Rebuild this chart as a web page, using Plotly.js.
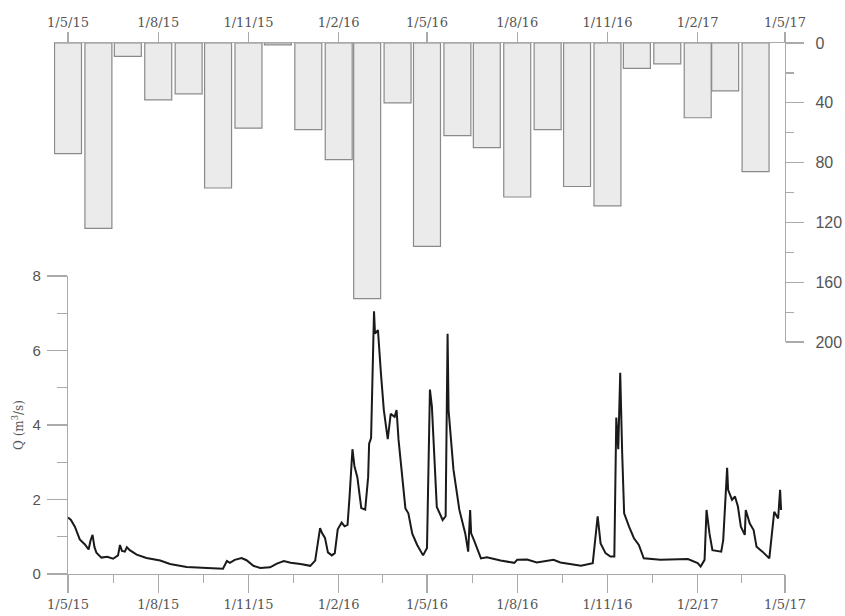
<!DOCTYPE html>
<html>
<head>
<meta charset="utf-8">
<script src="https://cdn.plot.ly/plotly-3.0.1.min.js"></script>
<style>html,body{margin:0;padding:0;background:#fff;}#chart{width:845px;height:616px;}</style>
</head>
<body>
<div id="chart"></div>
<script>
// Monthly precipitation (mm), bars centred on the first day of each month
const barMonths = ["2015-05-01","2015-06-01","2015-07-01","2015-08-01","2015-09-01","2015-10-01",
  "2015-11-01","2015-12-01","2016-01-01","2016-02-01","2016-03-01","2016-04-01",
  "2016-05-01","2016-06-01","2016-07-01","2016-08-01","2016-09-01","2016-10-01",
  "2016-11-01","2016-12-01","2017-01-01","2017-02-01","2017-03-01","2017-04-01"];
const barVals = [74, 124, 9, 38, 34, 97, 57, 1.3, 58, 78, 171, 40,
  136, 62, 70, 103, 58, 96, 109, 17, 14, 50, 32, 86];

// Discharge Q (m3/s): days since 1 May 2015 and values
const qDay = [0,3,7,12,17,21,23,25,27,29,34,40,46,51,53,55,58,60,63,70,80,94,104,121,142,158,162,165,170,177,182,189,196,206,213,220,227,237,247,252,257,259,262,265,269,272,275,279,282,285,287,290,292,295,299,303,306,307,309,312,313,316,319,322,326,329,333,335,337,341,344,347,351,356,362,366,369,371,376,382,385,387,388,393,399,405,408,410,411,414,421,427,441,455,458,468,478,495,502,523,535,540,543,548,553,557,559,561,563,565,567,572,577,582,587,604,632,642,645,649,651,654,657,666,668,672,673,677,680,683,686,690,691,695,699,702,708,715,720,724,726,727];
const qVal = [1.52,1.45,1.27,0.93,0.80,0.66,0.9,1.05,0.72,0.57,0.44,0.46,0.41,0.5,0.78,0.62,0.6,0.72,0.64,0.52,0.43,0.36,0.27,0.19,0.16,0.14,0.35,0.30,0.38,0.43,0.37,0.22,0.16,0.18,0.28,0.35,0.30,0.27,0.22,0.36,1.23,1.1,0.97,0.58,0.5,0.56,1.2,1.38,1.28,1.32,2.05,3.35,2.9,2.6,1.77,1.73,2.6,3.5,3.65,7.05,6.45,6.55,5.4,4.4,3.62,4.3,4.22,4.4,3.6,2.6,1.76,1.63,1.08,0.78,0.5,0.7,4.95,4.5,1.8,1.45,1.55,6.45,4.4,2.8,1.72,1.09,0.6,1.72,1.09,0.9,0.42,0.45,0.36,0.30,0.38,0.39,0.31,0.38,0.31,0.22,0.29,1.55,0.82,0.56,0.47,0.47,4.2,3.35,5.4,3.25,1.63,1.27,0.96,0.78,0.42,0.38,0.40,0.29,0.2,0.38,1.72,1.09,0.64,0.6,0.91,2.85,2.26,1.99,2.08,1.81,1.27,1.05,1.72,1.36,1.18,0.73,0.6,0.42,1.67,1.49,2.26,1.72];

// Axis ticks
const tickDates = ["2015-05-01","2015-08-01","2015-11-01","2016-02-01","2016-05-01","2016-08-01","2016-11-01","2017-02-01","2017-05-01"];
const tickLabels = ["1/5/15","1/8/15","1/11/15","1/2/16","1/5/16","1/8/16","1/11/16","1/2/17","1/5/17"];
const qTicks = [0,2,4,6,8];
const pTicks = [0,40,80,120,160,200];

const DAY = 86400000;
const t0 = Date.UTC(2015,4,1);
function iso(ms){ return new Date(ms).toISOString().slice(0,19).replace('T',' '); }
const qDates = qDay.map(d => iso(t0 + d*DAY));
const minorDates = [];
for (let i=0;i<tickDates.length-1;i++){
  const a = Date.parse(tickDates[i]+"T00:00:00Z"), b = Date.parse(tickDates[i+1]+"T00:00:00Z");
  minorDates.push(iso((a+b)/2));
}

const axisCol = "#aaaaaa";
const dateFont = {family:"DejaVu Serif", size:13, color:"#555"};
const numFont = {family:"Liberation Sans, Arial", size:15, color:"#555"};

const traces = [
  {type:"scatter", mode:"lines", x:qDates, y:qVal, xaxis:"x", yaxis:"y",
   line:{color:"#1a1a1a", width:2}, hoverinfo:"skip"},
  {type:"bar", x:barMonths, y:barVals, xaxis:"x2", yaxis:"y2",
   width:27.5*DAY, marker:{color:"#ebebeb", line:{color:"#8a8a8a", width:1.2}}, hoverinfo:"skip"}
];

const L = 54, R = 60, T = 43, B = 42, W = 845, H = 616;
const pw = W-L-R, ph = H-T-B;
const x2start = iso(t0 - (68-L)*(731/717)*DAY);

const layout = {
  width:W, height:H, showlegend:false,
  margin:{l:L, r:R, t:T, b:B},
  paper_bgcolor:"#fff", plot_bgcolor:"rgba(0,0,0,0)",
  xaxis:{type:"date", domain:[(68-L)/pw,1], range:["2015-05-01","2017-05-01"], anchor:"y",
    tickmode:"array", tickvals:tickDates, ticktext:tickLabels, tickfont:dateFont,
    ticks:"outside", ticklen:18, tickcolor:axisCol, tickwidth:1.2,
    showline:true, linecolor:axisCol, linewidth:1.2, showgrid:false, zeroline:false,
    minor:{tickmode:"array", tickvals:minorDates, ticks:"outside", ticklen:8, tickcolor:axisCol, tickwidth:1.2, showgrid:false}},
  yaxis:{domain:[0,(574-276)/ph], range:[0,8], anchor:"x",
    tickmode:"array", tickvals:qTicks, tickfont:numFont, ticklabelstandoff:3,
    ticks:"outside", ticklen:20, tickcolor:axisCol, tickwidth:1.2,
    showline:true, linecolor:axisCol, linewidth:1.2, showgrid:false, zeroline:false,
    minor:{tickmode:"linear", tick0:1, dtick:2, ticks:"outside", ticklen:10, tickcolor:axisCol, tickwidth:1.2, showgrid:false},
    title:{text:"Q (m<sup>3</sup>/s)", font:{family:"DejaVu Serif", size:12, color:"#555"}, standoff:6}},
  xaxis2:{type:"date", domain:[0,1], range:[x2start,"2017-05-01"], anchor:"y2", side:"top",
    tickmode:"array", tickvals:tickDates, ticktext:tickLabels, tickfont:dateFont,
    ticks:"outside", ticklen:10, tickcolor:axisCol, tickwidth:1.2,
    showline:true, linecolor:axisCol, linewidth:1.2, showgrid:false, zeroline:false},
  yaxis2:{domain:[(574-342)/ph,1], range:[200,0], anchor:"x2", side:"right",
    tickmode:"array", tickvals:pTicks, tickfont:{family:"Liberation Sans, Arial", size:16, color:"#555"},
    ticklabelstandoff:8,
    ticks:"outside", ticklen:18, tickcolor:axisCol, tickwidth:1.2,
    showline:true, linecolor:axisCol, linewidth:1.2, showgrid:false, zeroline:false,
    minor:{tickmode:"linear", tick0:20, dtick:40, ticks:"outside", ticklen:8, tickcolor:axisCol, tickwidth:1.2, showgrid:false}}
};

Plotly.newPlot("chart", traces, layout, {staticPlot:true, displayModeBar:false});
</script>
</body>
</html>
